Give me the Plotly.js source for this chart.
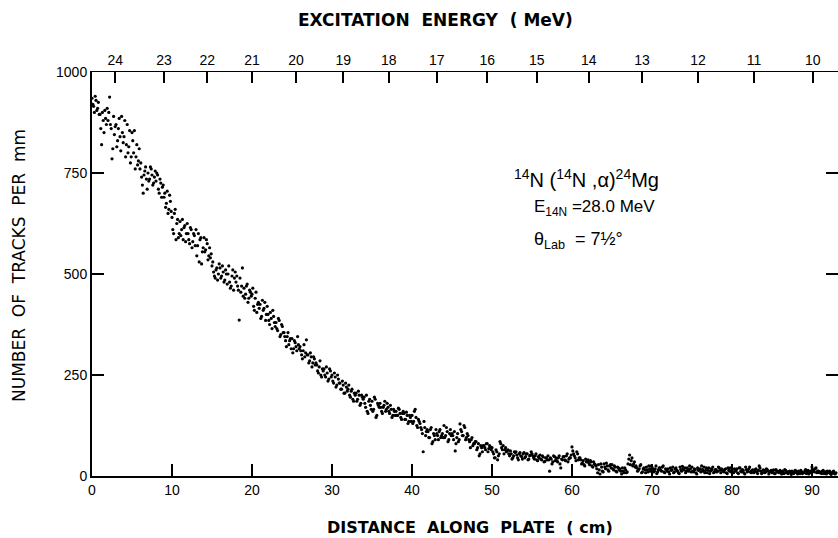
<!DOCTYPE html>
<html>
<head>
<meta charset="utf-8">
<script src="https://cdn.plot.ly/plotly-3.0.1.min.js"></script>
<style>html,body{margin:0;padding:0;background:#fff;}#chart{width:838px;height:538px;}</style>
</head>
<body>
<div id="chart"></div>
<script>
// Distance along plate (cm), first set of scan readings
const distanceA = [
0,0.2,0.4,0.6,0.8, 1,1.2,1.4,1.6,1.8, 2,2.2,2.4,2.6,2.8, 3,3.2,3.4,3.6,3.8, 4,4.2,4.4,4.6,4.8,
5,5.2,5.4,5.6,5.8, 6,6.2,6.4,6.6,6.8, 7,7.2,7.4,7.6,7.8, 8,8.2,8.4,8.6,8.8, 9,9.2,9.4,9.6,9.8,
10,10.2,10.4,10.6,10.8, 11,11.2,11.4,11.6,11.8, 12,12.2,12.4,12.6,12.8, 13,13.2,13.4,13.6,13.8, 14,14.2,14.4,14.6,14.8,
15,15.2,15.4,15.6,15.8, 16,16.2,16.4,16.6,16.8, 17,17.2,17.4,17.6,17.8, 18,18.2,18.4,18.6,18.8, 19,19.2,19.4,19.6,19.8,
20,20.2,20.4,20.6,20.8, 21,21.2,21.4,21.6,21.8, 22,22.2,22.4,22.6,22.8, 23,23.2,23.4,23.6,23.8, 24,24.2,24.4,24.6,24.8,
25,25.2,25.4,25.6,25.8, 26,26.2,26.4,26.6,26.8, 27,27.2,27.4,27.6,27.8, 28,28.2,28.4,28.6,28.8, 29,29.2,29.4,29.6,29.8,
30,30.2,30.4,30.6,30.8, 31,31.2,31.4,31.6,31.8, 32,32.2,32.4,32.6,32.8, 33,33.2,33.4,33.6,33.8, 34,34.2,34.4,34.6,34.8,
35,35.2,35.4,35.6,35.8, 36,36.2,36.4,36.6,36.8, 37,37.2,37.4,37.6,37.8, 38,38.2,38.4,38.6,38.8, 39,39.2,39.4,39.6,39.8,
40,40.2,40.4,40.6,40.8, 41,41.2,41.4,41.6,41.8, 42,42.2,42.4,42.6,42.8, 43,43.2,43.4,43.6,43.8, 44,44.2,44.4,44.6,44.8,
45,45.2,45.4,45.6,45.8, 46,46.2,46.4,46.6,46.8, 47,47.2,47.4,47.6,47.8, 48,48.2,48.4,48.6,48.8, 49,49.2,49.4,49.6,49.8,
50,50.2,50.4,50.6,50.8, 51,51.2,51.4,51.6,51.8, 52,52.2,52.4,52.6,52.8, 53,53.2,53.4,53.6,53.8, 54,54.2,54.4,54.6,54.8,
55,55.2,55.4,55.6,55.8, 56,56.2,56.4,56.6,56.8, 57,57.2,57.4,57.6,57.8, 58,58.2,58.4,58.6,58.8, 59,59.2,59.4,59.6,59.8,
60,60.2,60.4,60.6,60.8, 61,61.2,61.4,61.6,61.8, 62,62.2,62.4,62.6,62.8, 63,63.2,63.4,63.6,63.8, 64,64.2,64.4,64.6,64.8,
65,65.2,65.4,65.6,65.8, 66,66.2,66.4,66.6,66.8, 67,67.2,67.4,67.6,67.8, 68,68.2,68.4,68.6,68.8, 69,69.2,69.4,69.6,69.8,
70,70.2,70.4,70.6,70.8, 71,71.2,71.4,71.6,71.8, 72,72.2,72.4,72.6,72.8, 73,73.2,73.4,73.6,73.8, 74,74.2,74.4,74.6,74.8,
75,75.2,75.4,75.6,75.8, 76,76.2,76.4,76.6,76.8, 77,77.2,77.4,77.6,77.8, 78,78.2,78.4,78.6,78.8, 79,79.2,79.4,79.6,79.8,
80,80.2,80.4,80.6,80.8, 81,81.2,81.4,81.6,81.8, 82,82.2,82.4,82.6,82.8, 83,83.2,83.4,83.6,83.8, 84,84.2,84.4,84.6,84.8,
85,85.2,85.4,85.6,85.8, 86,86.2,86.4,86.6,86.8, 87,87.2,87.4,87.6,87.8, 88,88.2,88.4,88.6,88.8, 89,89.2,89.4,89.6,89.8,
90,90.2,90.4,90.6,90.8, 91,91.2,91.4,91.6,91.8, 92,92.2,92.4,92.6,92.8, 93
];

// Number of tracks per mm, first set
const tracksA = [
935,915,940,905,925, 895,820,880,905,870, 880,938,860,810,845, 870,830,885,805,850, 840,790,870,815,775,
850,800,760,820,780, 760,740,700,755,735, 750,735,760,720,740, 730,745,700,725,715, 690,665,705,660,680,
640,600,660,625,590, 630,610,585,620,600, 600,575,610,580,595, 610,570,530,590,555, 590,560,575,545,540,
520,505,490,515,500, 515,495,505,485,500, 500,480,470,510,490, 480,470,386,455,515, 465,450,475,440,455,
450,420,440,405,430, 425,395,410,430,400, 400,375,390,410,380, 380,360,385,350,370, 355,335,345,325,340,
340,315,330,310,325, 320,300,310,295,337, 300,285,295,280,290, 280,260,270,250,265, 265,245,255,240,260,
250,230,245,225,240, 230,215,225,205,220, 215,200,210,190,205, 205,190,200,180,195, 195,170,160,185,175,
185,165,190,150,175, 180,160,170,185,165, 170,155,165,150,160, 160,150,165,145,155, 155,140,150,135,145,
150,135,165,125,140, 130,115,60,120,110, 110,95,120,85,100, 115,100,110,95,105, 125,100,110,90,115,
105,90,62,95,85, 129,110,100,120,95, 100,85,90,75,80, 85,70,50,75,60, 75,65,80,68,72,
70,55,45,60,50, 85,70,75,65,60, 65,50,55,45,60, 60,45,55,50,42, 58,48,55,42,52,
55,45,50,40,48, 52,40,47,36,45, 50,12,42,35,48, 45,35,50,20,40, 48,38,55,42,45,
72,55,45,60,40, 45,30,38,25,35, 40,28,35,22,30, 25,8,15,30,12, 30,18,25,12,28,
28,15,22,10,20, 18,5,12,20,8, 30,52,38,25,35, 25,12,18,28,10, 20,8,15,25,12,
22,10,18,6,15, 20,12,25,8,16, 18,5,14,22,10, 20,12,6,16,24, 15,8,20,12,18,
22,10,16,5,14, 18,25,12,8,20, 14,6,18,22,10, 16,12,20,8,15, 10,18,6,14,20,
15,8,12,18,6, 20,10,14,5,16, 12,22,8,15,10, 18,6,25,12,8, 14,10,16,5,12,
8,15,6,12,10, 14,5,10,16,8, 6,12,4,10,8, 12,5,10,14,6, 8,16,10,5,12,
22,14,18,8,12, 10,6,14,8,5, 8,12,4,10,6, 8
];

// Distance along plate (cm), second set of scan readings
const distanceB = [
0.1,0.3,0.5,0.7,0.9, 1.1,1.3,1.5,1.7,1.9, 2.1,2.3,2.5,2.7,2.9, 3.1,3.3,3.5,3.7,3.9, 4.1,4.3,4.5,4.7,4.9,
5.1,5.3,5.5,5.7,5.9, 6.1,6.3,6.5,6.7,6.9, 7.1,7.3,7.5,7.7,7.9, 8.1,8.3,8.5,8.7,8.9, 9.1,9.3,9.5,9.7,9.9,
10.1,10.3,10.5,10.7,10.9, 11.1,11.3,11.5,11.7,11.9, 12.1,12.3,12.5,12.7,12.9, 13.1,13.3,13.5,13.7,13.9, 14.1,14.3,14.5,14.7,14.9,
15.1,15.3,15.5,15.7,15.9, 16.1,16.3,16.5,16.7,16.9, 17.1,17.3,17.5,17.7,17.9, 18.1,18.3,18.5,18.7,18.9, 19.1,19.3,19.5,19.7,19.9,
20.1,20.3,20.5,20.7,20.9, 21.1,21.3,21.5,21.7,21.9, 22.1,22.3,22.5,22.7,22.9, 23.1,23.3,23.5,23.7,23.9, 24.1,24.3,24.5,24.7,24.9,
25.1,25.3,25.5,25.7,25.9, 26.1,26.3,26.5,26.7,26.9, 27.1,27.3,27.5,27.7,27.9, 28.1,28.3,28.5,28.7,28.9, 29.1,29.3,29.5,29.7,29.9,
30.1,30.3,30.5,30.7,30.9, 31.1,31.3,31.5,31.7,31.9, 32.1,32.3,32.5,32.7,32.9, 33.1,33.3,33.5,33.7,33.9, 34.1,34.3,34.5,34.7,34.9,
35.1,35.3,35.5,35.7,35.9, 36.1,36.3,36.5,36.7,36.9, 37.1,37.3,37.5,37.7,37.9, 38.1,38.3,38.5,38.7,38.9, 39.1,39.3,39.5,39.7,39.9,
40.1,40.3,40.5,40.7,40.9, 41.1,41.3,41.5,41.7,41.9, 42.1,42.3,42.5,42.7,42.9, 43.1,43.3,43.5,43.7,43.9, 44.1,44.3,44.5,44.7,44.9,
45.1,45.3,45.5,45.7,45.9, 46.1,46.3,46.5,46.7,46.9, 47.1,47.3,47.5,47.7,47.9, 48.1,48.3,48.5,48.7,48.9, 49.1,49.3,49.5,49.7,49.9,
50.1,50.3,50.5,50.7,50.9, 51.1,51.3,51.5,51.7,51.9, 52.1,52.3,52.5,52.7,52.9, 53.1,53.3,53.5,53.7,53.9, 54.1,54.3,54.5,54.7,54.9,
55.1,55.3,55.5,55.7,55.9, 56.1,56.3,56.5,56.7,56.9, 57.1,57.3,57.5,57.7,57.9, 58.1,58.3,58.5,58.7,58.9, 59.1,59.3,59.5,59.7,59.9,
60.1,60.3,60.5,60.7,60.9, 61.1,61.3,61.5,61.7,61.9, 62.1,62.3,62.5,62.7,62.9, 63.1,63.3,63.5,63.7,63.9, 64.1,64.3,64.5,64.7,64.9,
65.1,65.3,65.5,65.7,65.9, 66.1,66.3,66.5,66.7,66.9, 67.1,67.3,67.5,67.7,67.9, 68.1,68.3,68.5,68.7,68.9, 69.1,69.3,69.5,69.7,69.9,
70.1,70.3,70.5,70.7,70.9, 71.1,71.3,71.5,71.7,71.9, 72.1,72.3,72.5,72.7,72.9, 73.1,73.3,73.5,73.7,73.9, 74.1,74.3,74.5,74.7,74.9,
75.1,75.3,75.5,75.7,75.9, 76.1,76.3,76.5,76.7,76.9, 77.1,77.3,77.5,77.7,77.9, 78.1,78.3,78.5,78.7,78.9, 79.1,79.3,79.5,79.7,79.9,
80.1,80.3,80.5,80.7,80.9, 81.1,81.3,81.5,81.7,81.9, 82.1,82.3,82.5,82.7,82.9, 83.1,83.3,83.5,83.7,83.9, 84.1,84.3,84.5,84.7,84.9,
85.1,85.3,85.5,85.7,85.9, 86.1,86.3,86.5,86.7,86.9, 87.1,87.3,87.5,87.7,87.9, 88.1,88.3,88.5,88.7,88.9, 89.1,89.3,89.5,89.7,89.9,
90.1,90.3,90.5,90.7,90.9, 91.1,91.3,91.5,91.7,91.9, 92.1,92.3,92.5,92.7,92.9
];

// Number of tracks per mm, second set
const tracksB = [
920,900,930,910,895, 860,900,850,885,910, 900,870,785,890,865, 815,860,840,890,825, 880,820,800,855,790,
830,855,790,770,810, 775,720,745,765,710, 730,765,745,725,755, 750,710,735,690,720, 700,675,650,695,655,
610,650,585,635,600, 595,635,615,580,625, 585,615,565,600,570, 545,600,585,525,565, 555,585,535,565,550,
530,495,510,485,525, 490,520,480,510,475, 520,465,495,460,505, 495,460,490,470,445, 440,470,430,460,445,
465,410,455,425,415, 390,435,415,385,420, 385,405,365,395,370, 365,390,345,375,355, 345,320,355,335,315,
305,335,320,345,315, 310,290,325,305,300, 280,305,270,295,275, 275,255,285,245,260, 250,270,235,265,245,
235,255,220,250,230, 215,235,205,230,210, 225,195,215,185,200, 185,210,175,200,190, 180,200,155,190,165,
160,195,145,180,170, 170,155,175,160,180, 160,175,145,165,150, 150,168,155,140,160, 140,158,130,150,135,
130,160,145,120,135, 120,105,135,100,115, 95,115,80,105,90, 105,90,115,100,95, 95,120,85,105,100,
100,110,80,105,90, 115,100,125,90,105, 90,70,95,80,85, 65,80,55,70,75, 70,80,60,75,65,
60,45,65,40,55, 80,65,55,70,62, 55,62,42,50,58, 52,40,58,48,55, 45,55,40,50,60,
50,42,55,38,45, 42,50,35,45,40, 40,45,30,50,38, 38,45,30,42,48, 40,50,35,45,52,
62,50,38,55,45, 40,32,28,42,36, 32,38,25,35,28, 18,28,5,22,10, 22,32,15,25,20,
18,25,12,22,15, 12,20,8,15,10, 42,28,45,30,22, 20,15,25,8,18, 15,22,10,18,25,
18,12,25,10,20, 14,22,10,18,12, 10,20,15,8,18, 14,8,22,12,18, 20,12,16,25,10,
12,18,8,20,15, 10,16,22,14,8, 20,12,15,8,16, 10,22,14,18,12, 16,8,20,12,10,
10,18,14,8,20, 12,16,8,22,10, 18,10,14,8,16, 10,14,20,6,15, 8,18,12,10,14,
12,6,16,10,8, 10,12,6,14,10, 10,8,12,6,14, 8,12,6,10,8, 12,6,14,10,8,
16,10,20,12,8, 8,12,6,10,12, 10,6,8,12,5
];

// Bottom axis ticks
const distanceTicks = [0,10,20,30,40,50,60,70,80,90];
// Left axis ticks
const trackTicks = [0,250,500,750,1000];
// Top axis: excitation energy (MeV) labels and their plate positions (cm)
const energyLabels = ['24','23','22','21','20','19','18','17','16','15','14','13','12','11','10'];
const energyPos = [2.9,9.0,14.4,20.0,25.5,31.4,37.1,43.1,49.4,55.6,62.1,68.75,75.75,82.75,90.1];

const FONT = 'Liberation Sans, Arial, Helvetica, sans-serif';
const WIDE = 'DejaVu Sans, Verdana, sans-serif';

const traces = [
  {
    x: distanceA.concat(distanceB), y: tracksA.concat(tracksB), type: 'scatter', mode: 'markers',
    marker: {color: '#000', size: 3.2},
    xaxis: 'x', yaxis: 'y', showlegend: false, hoverinfo: 'x+y'
  },
  {
    x: energyPos, y: energyPos.map(() => null), type: 'scatter', mode: 'markers',
    marker: {opacity: 0}, xaxis: 'x2', yaxis: 'y', showlegend: false, hoverinfo: 'skip'
  }
];

const layout = {
  width: 838, height: 538,
  margin: {l: 92, r: 0, t: 72, b: 62},
  paper_bgcolor: '#fff', plot_bgcolor: '#fff',
  font: {family: FONT, color: '#000', size: 14},
  showlegend: false,
  xaxis: {
    range: [0, 93.25], showgrid: false, zeroline: false,
    showline: true, linecolor: '#000', linewidth: 2,
    ticks: 'inside', ticklen: 12, tickwidth: 1.5, tickcolor: '#000',
    tickvals: distanceTicks, ticktext: distanceTicks.map(String),
    tickfont: {size: 14, family: FONT}, mirror: false
  },
  xaxis2: {
    overlaying: 'x', side: 'top', range: [0, 93.25], showgrid: false, zeroline: false,
    showline: true, linecolor: '#000', linewidth: 1.5,
    ticks: 'inside', ticklen: 11, tickwidth: 1.5, tickcolor: '#000',
    tickvals: energyPos, ticktext: energyLabels,
    tickfont: {size: 14, family: FONT}
  },
  yaxis: {
    range: [0, 1000], showgrid: false, zeroline: false,
    showline: true, linecolor: '#000', linewidth: 2,
    ticks: 'inside', ticklen: 12, tickwidth: 1.5, tickcolor: '#000',
    tickvals: trackTicks, ticktext: trackTicks.map(String),
    tickfont: {size: 14, family: FONT}, mirror: 'ticks', ticklabelstandoff: 0
  },
  annotations: [
    {text: 'EXCITATION  ENERGY  ( MeV)', xref: 'paper', yref: 'paper',
     x: (435 - 92) / 746, y: (476 - 20) / 404, xanchor: 'center', yanchor: 'middle',
     showarrow: false, font: {size: 17, family: WIDE, weight: 'bold'}},
    {text: 'DISTANCE  ALONG  PLATE  ( cm)', xref: 'paper', yref: 'paper',
     x: (470 - 92) / 746, y: (476 - 527) / 404, xanchor: 'center', yanchor: 'middle',
     showarrow: false, font: {size: 16, family: WIDE, weight: 'bold'}},
    {text: 'NUMBER  OF  TRACKS  PER  mm', xref: 'paper', yref: 'paper', textangle: -90,
     x: (19 - 92) / 746, y: (476 - 266) / 404, xanchor: 'center', yanchor: 'middle',
     showarrow: false, font: {size: 17, family: WIDE}},
    {text: '<sup>14</sup>N (<sup>14</sup>N ,α)<sup>24</sup>Mg', xref: 'paper', yref: 'paper',
     x: (512 - 92) / 746, y: (476 - 178) / 404, xanchor: 'left', yanchor: 'middle',
     showarrow: false, font: {size: 20, family: FONT}},
    {text: 'E<sub>14N</sub> =28.0 MeV', xref: 'paper', yref: 'paper',
     x: (532 - 92) / 746, y: (476 - 208) / 404, xanchor: 'left', yanchor: 'middle',
     showarrow: false, font: {size: 17, family: FONT}},
    {text: 'θ<sub>Lab</sub>  = 7½°', xref: 'paper', yref: 'paper',
     x: (532 - 92) / 746, y: (476 - 240) / 404, xanchor: 'left', yanchor: 'middle',
     showarrow: false, font: {size: 18, family: FONT}}
  ]
};

Plotly.newPlot('chart', traces, layout, {displayModeBar: false, staticPlot: true});
</script>
</body>
</html>
